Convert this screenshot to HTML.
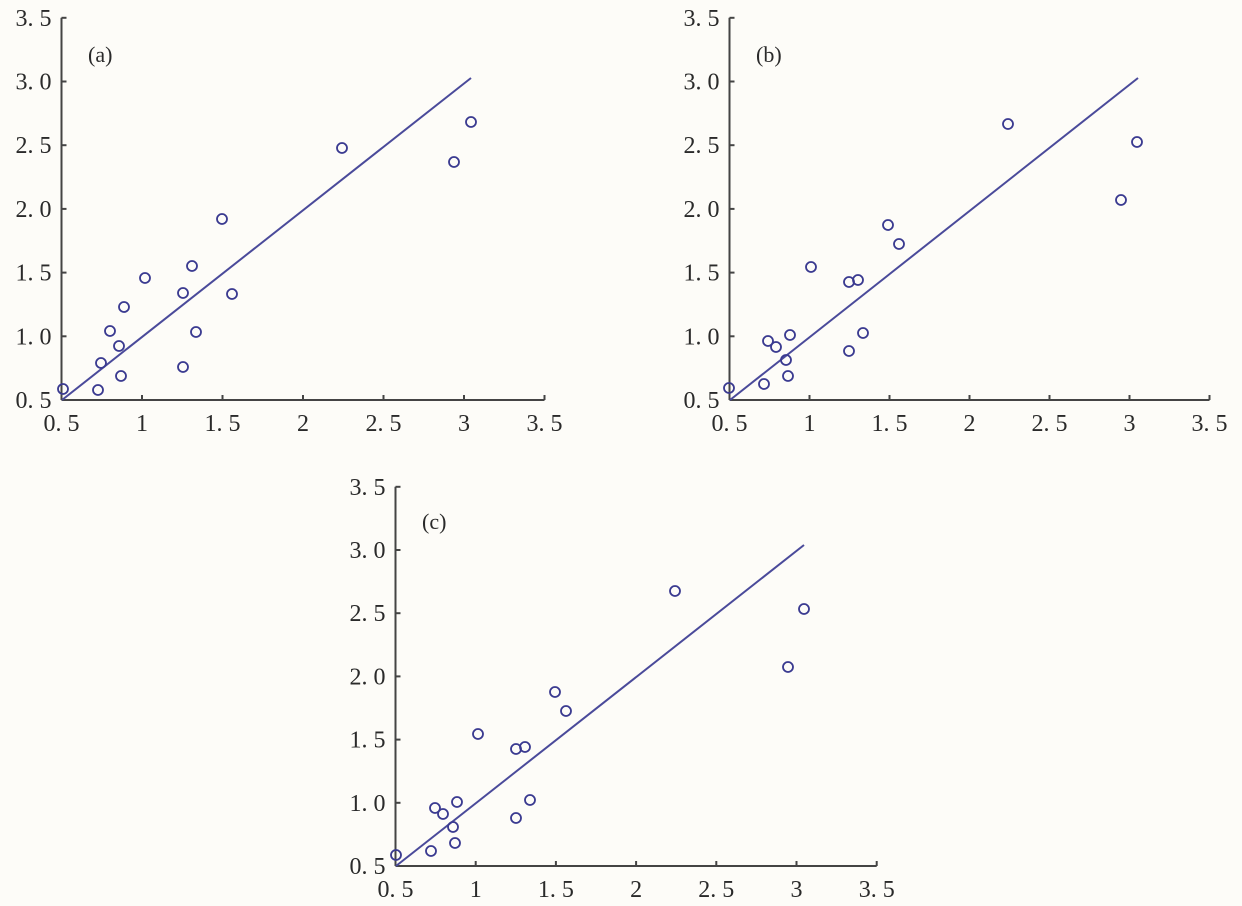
<!DOCTYPE html>
<html><head><meta charset="utf-8"><style>
html,body{margin:0;padding:0;background:#fdfcf8;}
svg{display:block}
text{font-family:"Liberation Serif",serif;font-size:24px;fill:#2a2a2a;}
</style></head><body>
<svg id="s" width="1242" height="906" xmlns="http://www.w3.org/2000/svg"></svg>
<script>
const s=document.getElementById('s');let h='';
const yl=['0. 5','1. 0','1. 5','2. 0','2. 5','3. 0','3. 5'];
const xl=['0. 5','1','1. 5','2','2. 5','3','3. 5'];
function panel(ox,xs,oy,ys,lab,labx,laby,pts,line){
 h+=`<line x1="${ox}" y1="${oy-ys*6}" x2="${ox}" y2="${oy}" stroke="#444" stroke-width="2"/>`;
 h+=`<line x1="${ox}" y1="${oy}" x2="${ox+xs*6}" y2="${oy}" stroke="#444" stroke-width="2"/>`;
 for(let i=0;i<7;i++){
  const y=oy-ys*i, x=ox+xs*i;
  h+=`<line x1="${ox}" y1="${y}" x2="${ox+5}" y2="${y}" stroke="#444" stroke-width="2"/>`;
  h+=`<line x1="${x}" y1="${oy}" x2="${x}" y2="${oy-5}" stroke="#444" stroke-width="2"/>`;
  h+=`<text x="${ox-10}" y="${y+8}" text-anchor="end">${yl[i]}</text>`;
  h+=`<text x="${x}" y="${oy+31}" text-anchor="middle">${xl[i]}</text>`;
 }
 h+=`<text x="${labx}" y="${laby}" style="font-size:22px">${lab}</text>`;
 h+=`<line x1="${line[0]}" y1="${line[1]}" x2="${line[2]}" y2="${line[3]}" stroke="#4a4a9a" stroke-width="2"/>`;
 for(const p of pts) h+=`<circle cx="${p[0]}" cy="${p[1]}" r="5" fill="none" stroke="#3a3a90" stroke-width="1.8"/>`;
}
const A=[[63,389],[98,390],[101,363],[110,331],[119,346],[121,376],[124,307],[145,278],[183,367],[183,293],[192,266],[196,332],[222,219],[232,294],[342,148],[454,162],[471,122]];
const B=[[729,388],[764,384],[768,341],[776,347],[786,360],[788,376],[790,335],[811,267],[849,351],[849,282],[858,280],[863,333],[888,225],[899,244],[1008,124],[1121,200],[1137,142]];
const C=B.map(p=>[p[0]-333,p[1]+467]);
panel(61.5,80.5,400,63.7,'(a)',88,62,A,[62,400,471,78]);
panel(729.5,80,400,63.7,'(b)',756,62,B,[730,400,1138,78]);
panel(395.5,80.2,866,63.2,'(c)',422,529,C,[396,866,804,545]);
s.innerHTML=h;
</script>
</body></html>
